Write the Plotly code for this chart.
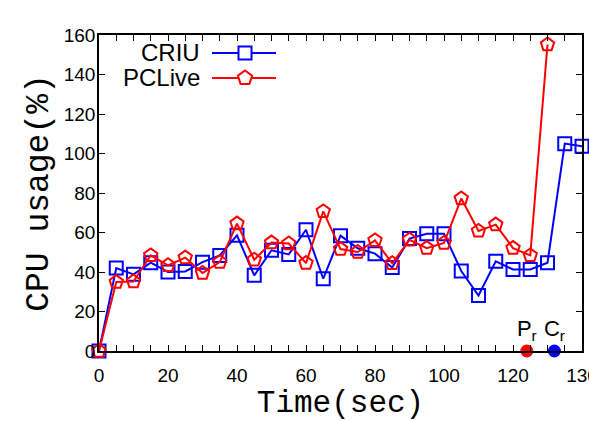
import plotly.graph_objects as go

# ---- data ----
time_s = [0, 5, 10, 15, 20, 25, 30, 35, 40, 45, 50, 55, 60, 65, 70, 75, 80, 85,
          90, 95, 100, 105, 110, 115, 120, 125, 130, 135, 140]
criu = [0, 42, 38.8, 44.7, 40, 40.3, 45, 48.4, 58.6, 38.3, 51, 48.9, 61.4, 36.6,
        58.4, 52, 49.3, 42.3, 56.9, 59.4, 59.4, 40.5, 28.1, 45.4, 41.3, 41.3,
        44.7, 105, 103.7]
pclive_time = time_s[:27]
pclive = [0, 34.9, 35.2, 48.4, 43.4, 47.3, 39.5, 45, 64.5, 46.2, 54.9, 54.4, 44.5,
          70.7, 51.6, 50.1, 56, 44.4, 56.3, 52.1, 54.7, 77.2, 60.8, 64, 52.1, 48.4,
          155.2]
series_names = ["CRIU", "PCLive"]

restore_labels = ["P<sub>r</sub>", "C<sub>r</sub>"]
restore_times = [124, 132]
restore_values = [0, 0]

x_tick_vals = [0, 20, 40, 60, 80, 100, 120, 140]
x_tick_text = ["0", "20", "40", "60", "80", "100", "120", "130"]
y_tick_vals = [0, 20, 40, 60, 80, 100, 120, 140, 160]

# ---- styling ----
BLUE = "#0000ff"
RED = "#ff0000"
SANS = "Liberation Sans, Arial, sans-serif"
MONO = "Liberation Mono, Courier New, monospace"

ML, MR, MT, MB = 99, 7, 35, 70
W, H = 589, 421
PW, PH = W - ML - MR, H - MT - MB


def px_x(px):
    return (px - ML) / PW


def px_y(py):
    return (H - MB - py) / PH


fig = go.Figure()
fig.add_trace(go.Scatter(
    x=time_s, y=criu, mode="lines+markers", name=series_names[0],
    line=dict(color=BLUE, width=2),
    marker=dict(symbol="square-open", size=13, color=BLUE, line=dict(width=2)),
    cliponaxis=False, showlegend=False,
))
fig.add_trace(go.Scatter(
    x=pclive_time, y=pclive, mode="lines+markers", name=series_names[1],
    line=dict(color=RED, width=2),
    marker=dict(symbol="pentagon-open", size=14, color=RED, line=dict(width=2)),
    cliponaxis=False, showlegend=False,
))
fig.add_trace(go.Scatter(
    x=restore_times, y=restore_values, mode="markers+text",
    text=restore_labels, textposition="top center",
    textfont=dict(family=SANS, size=22, color="black"),
    marker=dict(symbol="circle", size=13, color=[RED, BLUE]),
    cliponaxis=False, showlegend=False,
))

# legend drawn gnuplot-style: label text on the left, sample on the right
legend_rows = [(series_names[0], BLUE, 53, "square"), (series_names[1], RED, 78, "pentagon")]
pent = "M0,7.5 L7.13,2.32 L4.41,-6.07 L-4.41,-6.07 L-7.13,2.32 Z"
for name, col, py, sym in legend_rows:
    fig.add_annotation(
        text=name, xref="paper", yref="paper", x=px_x(202), y=px_y(py),
        xanchor="right", yanchor="middle", showarrow=False,
        font=dict(family=SANS, size=24, color="black"),
    )
    fig.add_shape(type="line", xref="paper", yref="paper",
                  x0=px_x(212), x1=px_x(276), y0=px_y(py), y1=px_y(py),
                  line=dict(color=col, width=2))
    if sym == "square":
        fig.add_shape(type="rect", xref="paper", yref="paper",
                      xsizemode="pixel", ysizemode="pixel",
                      xanchor=px_x(245), yanchor=px_y(py),
                      x0=-6.5, x1=6.5, y0=-6.5, y1=6.5,
                      fillcolor="white", line=dict(color=col, width=2))
    else:
        fig.add_shape(type="path", xref="paper", yref="paper",
                      xsizemode="pixel", ysizemode="pixel",
                      xanchor=px_x(245), yanchor=px_y(py), path=pent,
                      fillcolor="white", line=dict(color=col, width=2))

fig.update_layout(
    width=W, height=H,
    margin=dict(l=ML, r=MR, t=MT, b=MB),
    plot_bgcolor="white", paper_bgcolor="white",
    font=dict(family=SANS, color="black"),
    showlegend=False,
    xaxis=dict(
        range=[0, 140], tickvals=x_tick_vals, ticktext=x_tick_text,
        ticks="inside", ticklen=6, tickwidth=1, tickcolor="black",
        minor=dict(dtick=5, ticks="inside", ticklen=6, tickcolor="black", tickwidth=1),
        showline=True, linecolor="black", linewidth=1.5, mirror="ticks",
        showgrid=False, zeroline=False, automargin=False,
        tickfont=dict(family=SANS, size=19, color="black"),
        ticklabelstandoff=6, ticklabeloverflow="allow",
        title=dict(text="Time(sec)", font=dict(family=MONO, size=31, color="black"),
                   standoff=4),
    ),
    yaxis=dict(
        range=[0, 160], tickvals=y_tick_vals,
        ticks="inside", ticklen=6, tickwidth=1, tickcolor="black",
        showline=True, linecolor="black", linewidth=1.5, mirror="ticks",
        showgrid=False, zeroline=False, automargin=False,
        tickfont=dict(family=SANS, size=19, color="black"),
        ticklabelstandoff=-2,
        title=dict(text="CPU usage(%)", font=dict(family=MONO, size=33, color="black"),
                   standoff=5),
    ),
)

fig.write_html(
    "out.html",
    config={"displayModeBar": False},
    post_script="document.body.style.margin='0';document.body.style.overflow='hidden';",
)
